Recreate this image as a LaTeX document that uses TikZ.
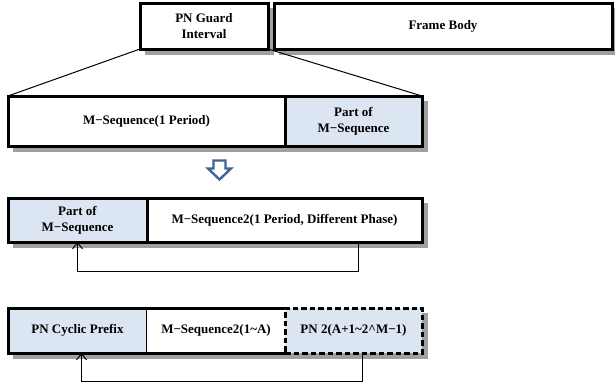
\documentclass[tikz,border=0pt]{standalone}
\usepackage{fontspec}
\setmainfont{Liberation Serif}
\usetikzlibrary{arrows.meta}
\definecolor{cellblue}{RGB}{220,230,242}
\definecolor{arrowblue}{RGB}{62,100,150}
\definecolor{shadowgray}{RGB}{160,160,160}
\tikzset{
  cell/.style={rectangle, anchor=north west, inner sep=0pt, outer sep=0pt,
    fill=white, align=center, font=\fontsize{13}{16}\selectfont\bfseries},
  boxed/.style={cell, draw=black, line width=3pt},
  bluecell/.style={fill=cellblue},
  edge/.style={draw=black, line width=3pt},
  dashedge/.style={draw=black, line width=3pt, dash pattern=on 5.5pt off 3pt},
  shade/.style={fill=shadowgray, draw=none},
  fan/.style={draw=black, line width=1pt},
  loopback/.style={draw=black, line width=1pt, -{Straight Barb[length=6pt,width=10pt]}},
}
\begin{document}
\begin{tikzpicture}[x=1pt, y=-1pt, line join=miter]
\useasboundingbox (0,0) rectangle (615,386);

% drop shadows behind each box
\fill[shade] (145,8) rectangle (273.5,54.5);
\fill[shade] (279,8) rectangle (615,54.5);
\fill[shade] (13,101) rectangle (427.5,151.5);
\fill[shade] (13,203) rectangle (427.5,247.5);
\fill[shade] (13,313) rectangle (427.5,358.5);

% frame structure
\node[boxed, minimum width=128, minimum height=46] (pn) at (140,3) {PN Guard\\Interval};
\node[boxed, minimum width=338, minimum height=46] (body) at (274,3) {Frame Body};

% expanded guard interval
\node[boxed, minimum width=277, minimum height=50] (r2a) at (8,96) {M−Sequence(1 Period)};
\node[boxed, bluecell, minimum width=137, minimum height=50] (r2b) at (285,96) {Part of\\M−Sequence};

\draw[fan] (pn.south west) -- (r2a.north west);
\draw[fan] (pn.south east) -- (r2b.north east);

% block arrow
\draw[arrowblue, line width=2.4pt, fill=white]
  (213.5,160.5) -- (225.5,160.5) -- (225.5,168.5) -- (231,168.5) -- (219.5,179.5)
  -- (208,168.5) -- (213.5,168.5) -- cycle;

% second sequence with copied part
\node[boxed, bluecell, minimum width=139, minimum height=44] (r3a) at (8,198) {Part of\\M−Sequence};
\node[boxed, minimum width=275, minimum height=44] (r3b) at (147,198) {M−Sequence2(1 Period, Different Phase)};

\draw[loopback] ([xshift=73.5pt]r3b.south) -- ++(0,29) -| (r3a.south);

% cyclic prefix structure
\node[boxed, bluecell, minimum width=139, minimum height=45] (r4a) at (8,308) {PN Cyclic Prefix};
\node[cell, minimum width=138, minimum height=45] (r4b) at (147,308) {M−Sequence2(1\textasciitilde A)};
\node[cell, bluecell, dashedge, minimum width=137, minimum height=45] (r4c) at (285,308) {PN 2(A+1\textasciitilde 2\textasciicircum M−1)};
\draw[edge] (r4b.north west) -- (r4b.north east);
\draw[edge] (r4b.south west) -- (r4b.south east);

\draw[loopback] ([xshift=8.5pt]r4c.south) -- ++(0,28) -| ([xshift=4pt]r4a.south);
\end{tikzpicture}
\end{document}
